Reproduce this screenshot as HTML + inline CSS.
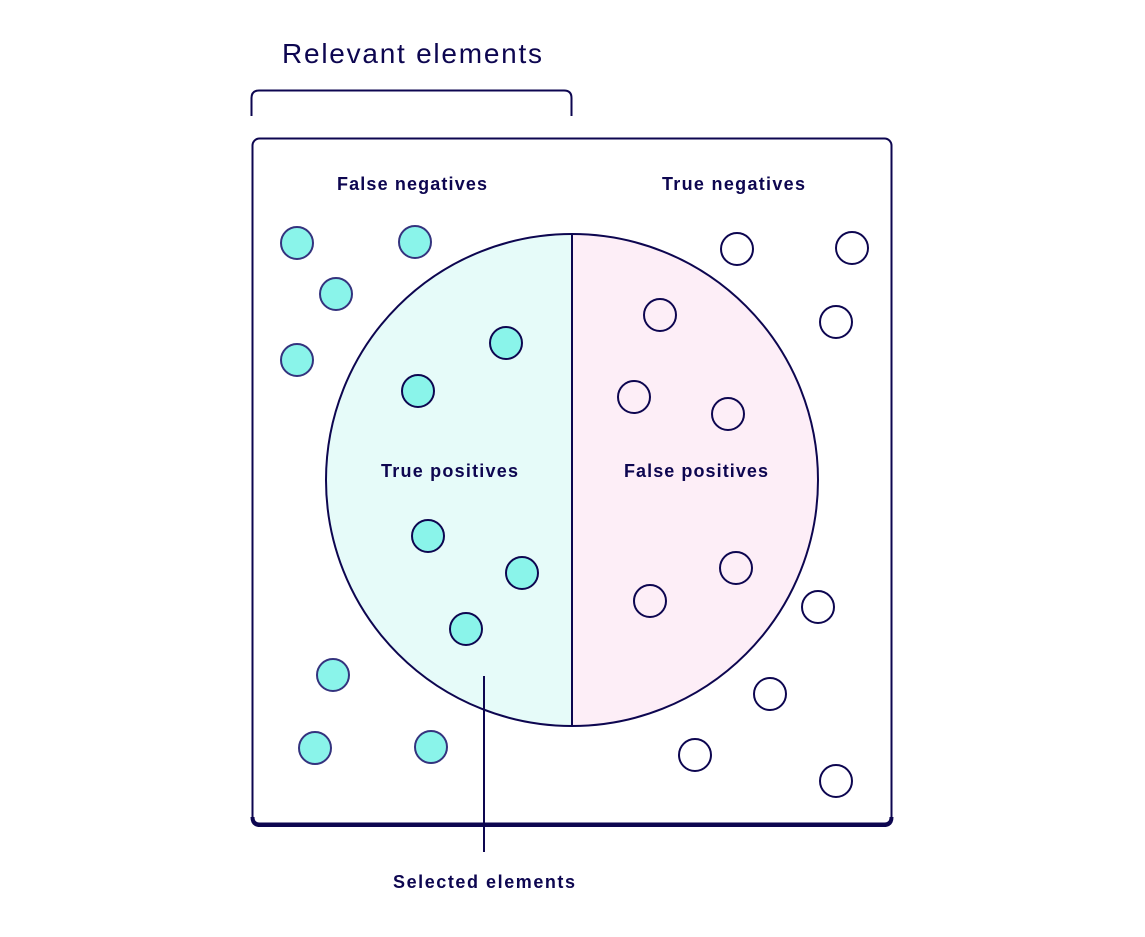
<!DOCTYPE html>
<html><head><style>body{margin:0;background:#fff}</style></head><body>
<svg width="1145" height="932" viewBox="0 0 1145 932" xmlns="http://www.w3.org/2000/svg" font-family="Liberation Sans, sans-serif">
<rect width="1145" height="932" fill="#fff"/>
<text x="282" y="63" font-size="28" fill="#0d0650" textLength="260" lengthAdjust="spacing">Relevant elements</text>
<path d="M251.5 116 V98 Q251.5 90.5 259 90.5 H564 Q571.5 90.5 571.5 98 V116" fill="none" stroke="#0d0650" stroke-width="2"/>
<rect x="252.5" y="138.5" width="639" height="685" rx="7" fill="#fff" stroke="#0d0650" stroke-width="2"/>
<path d="M252.5 817 Q252.5 825 260 825 H884 Q891.5 825 891.5 817" fill="none" stroke="#0d0650" stroke-width="4"/>
<path d="M572 234 A246 246 0 0 0 572 726 Z" fill="#e6fbf9"/>
<path d="M572 234 A246 246 0 0 1 572 726 Z" fill="#fdeef7"/>
<circle cx="572" cy="480" r="246" fill="none" stroke="#0d0650" stroke-width="2"/>
<line x1="572" y1="234" x2="572" y2="726" stroke="#0d0650" stroke-width="2"/>
<line x1="484" y1="676" x2="484" y2="852" stroke="#0d0650" stroke-width="2"/>
<g font-size="18" font-weight="bold" fill="#0d0650" lengthAdjust="spacing">
<text x="337" y="190" textLength="150">False negatives</text>
<text x="662" y="190" textLength="143">True negatives</text>
<text x="381" y="477" textLength="137">True positives</text>
<text x="624" y="477" textLength="144">False positives</text>
<text x="393" y="888" textLength="182">Selected elements</text>
</g>
<g fill="#8af4ea" stroke="#34337e" stroke-width="2">
<circle cx="297" cy="243" r="16"/><circle cx="415" cy="242" r="16"/><circle cx="336" cy="294" r="16"/><circle cx="297" cy="360" r="16"/><circle cx="333" cy="675" r="16"/><circle cx="315" cy="748" r="16"/><circle cx="431" cy="747" r="16"/>
</g>
<g fill="#8af4ea" stroke="#0d0650" stroke-width="2">
<circle cx="506" cy="343" r="16"/><circle cx="418" cy="391" r="16"/><circle cx="428" cy="536" r="16"/><circle cx="522" cy="573" r="16"/><circle cx="466" cy="629" r="16"/>
</g>
<g fill="none" stroke="#0d0650" stroke-width="2">
<circle cx="660" cy="315" r="16"/><circle cx="634" cy="397" r="16"/><circle cx="728" cy="414" r="16"/><circle cx="736" cy="568" r="16"/><circle cx="650" cy="601" r="16"/>
</g>
<g fill="#fff" stroke="#0d0650" stroke-width="2">
<circle cx="737" cy="249" r="16"/><circle cx="852" cy="248" r="16"/><circle cx="836" cy="322" r="16"/><circle cx="818" cy="607" r="16"/><circle cx="770" cy="694" r="16"/><circle cx="695" cy="755" r="16"/><circle cx="836" cy="781" r="16"/>
</g>
</svg>
</body></html>
